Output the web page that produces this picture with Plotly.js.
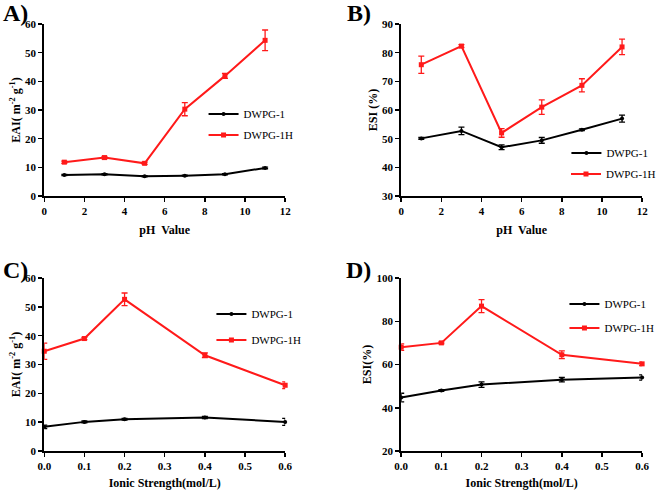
<!DOCTYPE html>
<html><head><meta charset="utf-8">
<script src="https://cdn.plot.ly/plotly-3.0.1.min.js"></script>
<style>body{margin:0;padding:0;background:#fff}#chart{width:661px;height:490px}</style>
</head><body><div id="chart"></div>
<script>
// Panel A: EAI vs pH
const phX = [1, 3, 5, 7, 9, 11];
const eaiPh_D1 = [7.3, 7.6, 6.9, 7.1, 7.6, 9.8];
const eaiPh_D1_err = [0.2, 0.2, 0.2, 0.2, 0.2, 0.3];
const eaiPh_D1H = [11.8, 13.4, 11.4, 30.3, 41.9, 54.3];
const eaiPh_D1H_err = [0.4, 0.4, 0.4, 2.3, 0.9, 3.6];
// Panel B: ESI vs pH
const esiPh_D1 = [50.1, 52.7, 47.0, 49.4, 53.1, 57.0];
const esiPh_D1_err = [0.3, 1.3, 0.8, 1.0, 0.3, 1.2];
const esiPh_D1H = [75.8, 82.3, 52.0, 61.0, 68.6, 82.0];
const esiPh_D1H_err = [3.0, 0.5, 1.5, 2.5, 2.3, 2.7];
// Panel C: EAI vs ionic strength
const ionX = [0, 0.1, 0.2, 0.4, 0.6];
const eaiIon_D1 = [8.4, 10.1, 11.0, 11.6, 10.1];
const eaiIon_D1_err = [0.6, 0.3, 0.3, 0.4, 1.2];
const eaiIon_D1H = [34.6, 39.0, 52.6, 33.2, 22.8];
const eaiIon_D1H_err = [2.8, 0.4, 2.2, 0.8, 1.2];
// Panel D: ESI vs ionic strength
const esiIon_D1 = [44.7, 48.0, 50.7, 53.0, 54.0];
const esiIon_D1_err = [2.0, 0.4, 1.3, 1.0, 1.2];
const esiIon_D1H = [68.0, 70.0, 87.0, 64.5, 60.3];
const esiIon_D1H_err = [1.5, 0.4, 3.0, 1.8, 0.8];

const names = ['DWPG-1', 'DWPG-1H'];
const panelLabels = ['A)', 'B)', 'C)', 'D)'];

const W = 661, H = 490;
const px = v => v / W, py = v => 1 - v / H;
const FONT = 'Liberation Serif, Times New Roman, serif';

function mk(x, y, err, idx, ax, leg) {
  const black = idx === 0;
  const col = black ? '#000000' : '#ff1a1a';
  return {
    x: x, y: y, type: 'scatter', mode: 'lines+markers', name: names[idx],
    xaxis: 'x' + ax, yaxis: 'y' + ax, legend: leg, cliponaxis: false,
    line: {color: col, width: 2},
    marker: {color: col, symbol: black ? 'circle' : 'square', size: black ? 4 : 5},
    error_y: {type: 'data', array: err, visible: true, color: col, thickness: 1.3, width: 3}
  };
}
const data = [
  mk(phX, eaiPh_D1, eaiPh_D1_err, 0, '', 'legend'),
  mk(phX, eaiPh_D1H, eaiPh_D1H_err, 1, '', 'legend2'),
  mk(phX, esiPh_D1, esiPh_D1_err, 0, '2', 'legend3'),
  mk(phX, esiPh_D1H, esiPh_D1H_err, 1, '2', 'legend4'),
  mk(ionX, eaiIon_D1, eaiIon_D1_err, 0, '3', 'legend5'),
  mk(ionX, eaiIon_D1H, eaiIon_D1H_err, 1, '3', 'legend6'),
  mk(ionX, esiIon_D1, esiIon_D1_err, 0, '4', 'legend7'),
  mk(ionX, esiIon_D1H, esiIon_D1H_err, 1, '4', 'legend8')
];

const tickFont = {family: FONT, size: 11, color: '#000', weight: 'bold'};
const titleFont = {family: FONT, size: 12, color: '#000', weight: 'bold'};
function xa(dom, range, dtick, fmt, title, anchor) {
  return {domain: dom, range: range, dtick: dtick, tick0: 0, tickformat: fmt, anchor: anchor,
    showline: true, linecolor: '#000', linewidth: 2, ticks: 'outside', ticklen: 4, tickwidth: 1.5, tickcolor: '#000',
    showgrid: false, zeroline: false, tickfont: tickFont,
    title: {text: title, font: titleFont, standoff: 9}};
}
function ya(dom, range, dtick, title, anchor) {
  return {domain: dom, range: range, dtick: dtick, tick0: 0, anchor: anchor,
    showline: true, linecolor: '#000', linewidth: 2, ticks: 'outside', ticklen: 4, tickwidth: 1.5, tickcolor: '#000',
    showgrid: false, zeroline: false, tickfont: tickFont,
    title: {text: title, font: titleFont, standoff: 2}};
}
const dxL = [px(45), px(290)], dxR = [px(408), px(653)];
const dyT = [py(196), py(24)], dyB = [py(451), py(278)];
const eaiTitle = 'EAI( m<sup>-2</sup> g<sup>-1</sup>)';

function leg(xp, yp) {
  return {x: px(xp), y: py(yp), xanchor: 'left', yanchor: 'middle', bgcolor: 'rgba(0,0,0,0)',
    borderwidth: 0, font: {family: FONT, size: 11, color: '#000'}};
}

const layout = {
  width: W, height: H, margin: {l: 0, r: 0, t: 0, b: 0},
  paper_bgcolor: '#fff', plot_bgcolor: '#fff', showlegend: true,
  xaxis: xa(dxL, [0, 12], 2, '', 'pH  Value', 'y'),
  yaxis: ya(dyT, [0, 60], 10, eaiTitle, 'x'),
  xaxis2: xa(dxR, [0, 12], 2, '', 'pH  Value', 'y2'),
  yaxis2: ya(dyT, [30, 90], 10, 'ESI (%)', 'x2'),
  xaxis3: xa(dxL, [0, 0.6], 0.1, '.1f', 'Ionic Strength(mol/L)', 'y3'),
  yaxis3: ya(dyB, [0, 60], 10, eaiTitle, 'x3'),
  xaxis4: xa(dxR, [0, 0.6], 0.1, '.1f', 'Ionic Strength(mol/L)', 'y4'),
  yaxis4: ya(dyB, [20, 100], 20, 'ESI(%)', 'x4'),
  legend: leg(207, 114), legend2: leg(207, 135),
  legend3: leg(576, 153), legend4: leg(576, 174),
  legend5: leg(215, 314), legend6: leg(215, 340),
  legend7: leg(574, 304), legend8: leg(574, 328),
  annotations: [
    [1, 13, 0], [351, 13, 1], [1, 270, 2], [350, 270, 3]
  ].map(a => ({x: px(a[0]), y: py(a[1]), xref: 'paper', yref: 'paper', xanchor: 'left', yanchor: 'middle',
    text: panelLabels[a[2]], showarrow: false, font: {family: FONT, size: 24, color: '#000', weight: 'bold'}}))
};
Plotly.newPlot('chart', data, layout, {displayModeBar: false, staticPlot: true});
</script></body></html>
